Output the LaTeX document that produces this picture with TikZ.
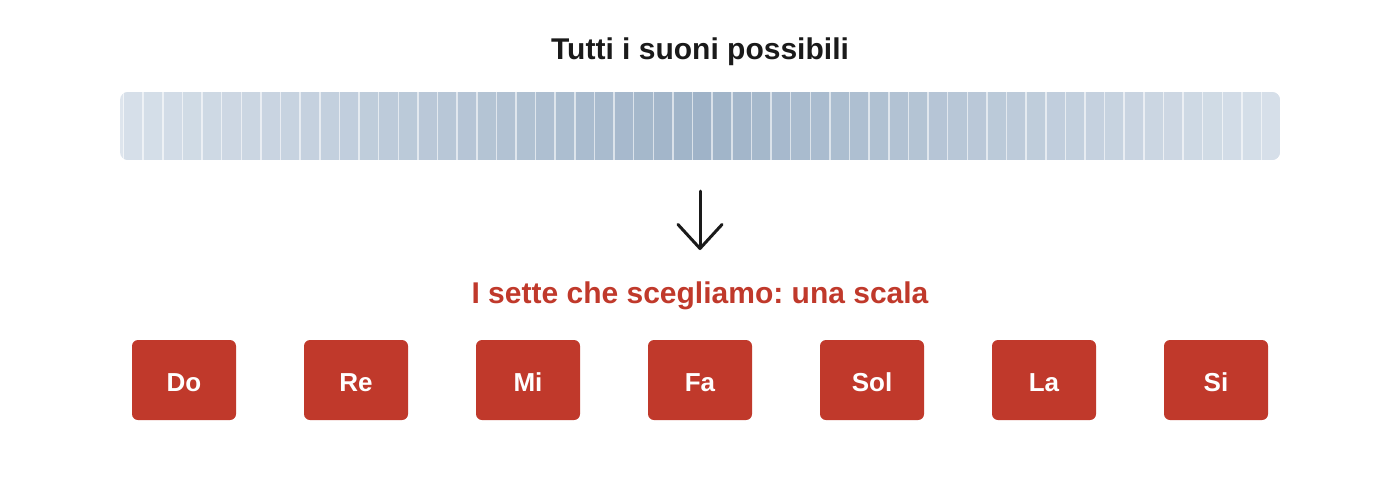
\documentclass[tikz,border=0pt]{standalone}
\usepackage{fontspec}
\setmainfont{Liberation Sans}
\usepackage{xcolor}
\usetikzlibrary{positioning,arrows.meta}
\definecolor{inkdark}{HTML}{1A1A1A}
\definecolor{scalered}{HTML}{C0392B}
\definecolor{barlight}{HTML}{D6DFE9}
\definecolor{bardark}{HTML}{9FB3C8}
\frenchspacing

\begin{document}
\begin{tikzpicture}[x=1pt,y=-1pt,
	heading/.style={anchor=base,font=\fontsize{30}{34}\selectfont\bfseries},
	notebox/.style={fill=scalered,rounded corners=6pt,minimum width=104pt,minimum height=80pt,inner sep=0pt,text height=22pt,text depth=0pt,text=white,font=\fontsize{26}{30}\selectfont\bfseries},
	arrowline/.style={draw=inkdark,line width=3pt,line cap=round,-{Straight Barb[length=24pt,width=44pt,line cap=round,line join=round]}}]
	\useasboundingbox (0,0) rectangle (1400,480);
	\node[heading,text=inkdark] (title) at (700,59) {Tutti i suoni possibili};
	% the continuum of sounds
	\begin{scope}
		\clip[rounded corners=8pt] (120,92) rectangle (1280,160);
		\fill[barlight!80!white] (120,92) rectangle (1280,160);
		\foreach \i in {0,...,58}{
			\pgfmathsetmacro{\shade}{100*abs(\i-29)/29}
			\fill[barlight!\shade!bardark] (123.6+\i*19.62,92) rectangle (143.22+\i*19.62,160);
			\draw[white,opacity=0.6,line width=1.5pt] (123.6+\i*19.62,92) -- (123.6+\i*19.62,160);
		}
	\end{scope}
	\coordinate (arrtop) at (700,191);
	\coordinate (arrtip) at (700,250);
	\draw[arrowline] (arrtop) -- (arrtip);
	\node[heading,text=scalered] (subtitle) at (700,303) {I sette che scegliamo: una scala};
	% the seven notes
	\foreach \name [count=\k from 0] in {Do,Re,Mi,Fa,Sol,La,Si}
		\node[notebox] (note\k) at (184+\k*172,380) {\name};
\end{tikzpicture}
\end{document}
